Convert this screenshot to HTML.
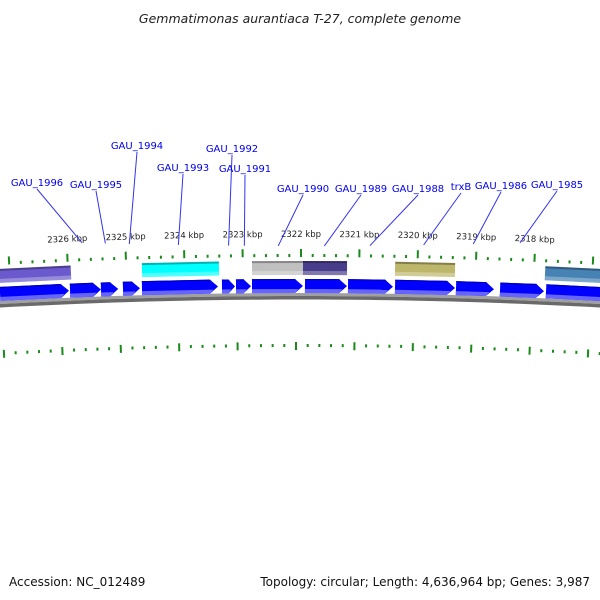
<!DOCTYPE html>
<html><head><meta charset="utf-8"><style>
body{margin:0;background:#fff}
svg{display:block;font-family:"DejaVu Sans","Liberation Sans",sans-serif}
</style></head><body>
<svg id="chart" width="600" height="600" viewBox="0 0 600 600">
<text x="300" y="23" text-anchor="middle" font-size="12.5" font-style="italic" fill="#222">Gemmatimonas aurantiaca T-27, complete genome</text>
<g id="ring"></g>
<g id="labels"></g>
<text x="9" y="586" font-size="12" fill="#111">Accession: NC_012489</text>
<text x="590" y="586" text-anchor="end" font-size="12" fill="#111">Topology: circular; Length: 4,636,964 bp; Genes: 3,987</text>
</svg>
<script>
const geneStart=[2327.154,2325.955,2325.425,2325.048,2324.723,2323.353,2323.113,2322.839,2321.932,2321.195,2320.390,2319.346,2318.592,2317.805];
const geneEnd=[2325.973,2325.425,2325.130,2324.757,2323.421,2323.130,2322.856,2321.966,2321.212,2320.425,2319.363,2318.695,2317.839,2316.700];
const featStart=[2327.3,2324.723,2322.839,2321.966,2320.390,2317.822];
const featEnd=[2325.939,2323.404,2321.949,2321.212,2319.363,2316.7];
const featColor=["#6a5acd","#00ffff","#c0c0c0","#483d8b","#bdb76b","#4682b4"];
const tickKbp=[2318,2319,2320,2321,2322,2323,2324,2325,2326];
const labelNames=["GAU_1996","GAU_1995","GAU_1994","GAU_1993","GAU_1992","GAU_1991","GAU_1990","GAU_1989","GAU_1988","trxB","GAU_1986","GAU_1985"];
const labelKbp=[2325.75,2325.35,2324.94,2324.10,2323.24,2322.97,2322.39,2321.60,2320.82,2319.90,2319.05,2318.25];
const NS="http://www.w3.org/2000/svg";
const CX=300,CY=5922;
const xOf=k=>301+(2322-k)*58.4;
const ring=document.getElementById('ring');
function mk(t,a,p){const e=document.createElementNS(NS,t);for(const k in a)e.setAttribute(k,a[k]);(p||ring).appendChild(e);return e;}
// place local content drawn around x=xc at position xc on the circle
function rot(xc,y){const r=CY-(y||280);const a=Math.asin((xc-CX)/r)*180/Math.PI;return `rotate(${a} ${CX} ${CY}) translate(${CX-xc} 0)`;}
function arcPath(y1,y2){const r1=CY-y1,r2=CY-y2;const pts=[];const N=40;
 for(let i=0;i<=N;i++){const a=-0.06+0.12*i/N;pts.push([CX+r1*Math.sin(a),CY-r1*Math.cos(a)]);}
 for(let i=N;i>=0;i--){const a=-0.06+0.12*i/N;pts.push([CX+r2*Math.sin(a),CY-r2*Math.cos(a)]);}
 return 'M'+pts.map(p=>p[0].toFixed(2)+','+p[1].toFixed(2)).join('L')+'Z';}
// backbone
const bb=mk('path',{d:arcPath(293,296),fill:'#a0a0a0'});

const bb2=mk('path',{d:arcPath(296,299.5),fill:'#6a6a6a'});

// ticks
for(let i=0;i<=55;i++){const kr=Math.round((2327.2-i*0.2)*5)/5;const x=xOf(kr);if(x<-5||x>605)continue;
 const major=Math.abs(kr-Math.round(kr))<0.01;
 const t=mk('rect',{x:x-1,y:major?249:254,width:2,height:major?8:3,fill:'#1a8a1a',transform:rot(x,253)});
 
 const xi=x-5;
 const t2=mk('rect',{x:xi-1,y:major?342:344,width:2,height:major?8:3,fill:'#1a8a1a',transform:rot(xi,346)});
 }
tickKbp.forEach(k=>{const x=xOf(k);const t=mk('text',{x:x,y:237,'text-anchor':'middle','font-size':8.5,fill:'#222',transform:rot(x,237)});t.textContent=k+' kbp';
 });
// features
featStart.forEach((s,i)=>{const x1=xOf(s),x2=xOf(featEnd[i]);const g=mk('g',{transform:rot((x1+x2)/2,268)});
 
 mk('rect',{x:x1,y:261,width:x2-x1,height:14,fill:featColor[i]},g);
 mk('rect',{x:x1,y:261,width:x2-x1,height:2,fill:'#000','fill-opacity':0.3},g);
 mk('rect',{x:x1,y:271,width:x2-x1,height:4,fill:'#fff','fill-opacity':0.3},g);});
// genes
geneStart.forEach((s,i)=>{const x1=xOf(s),x2=xOf(geneEnd[i]);const tip=Math.min(8,(x2-x1)/2);
 const g=mk('g',{transform:rot((x1+x2)/2,286)});
 
 mk('path',{d:`M${x1},279L${x2-tip},279L${x2},286L${x2-tip},293L${x1},293Z`,fill:'#0000ff'},g);
 mk('path',{d:`M${x1},289L${x2-tip*4/7},289L${x2-tip},293L${x1},293Z`,fill:'#6666ff'},g);
 mk('path',{d:`M${x1},279L${x2-tip},279L${x2-tip+1.2},280L${x1},280Z`,fill:'#0000aa'},g);});
// labels
const lg=document.getElementById('labels');
const lx=[37,96,137,183,232,245,303,361,418,461,501,557];
const ly=[186,188,149,171,152,172,192,192,192,190,189,188];
labelNames.forEach((n,i)=>{const x=xOf(labelKbp[i]);
 const l=mk('line',{x1:lx[i],y1:ly[i]+3,x2:x,y2:246-Math.pow((x-300)/300,2)*6,stroke:'#3333ee','stroke-width':1},lg);
 
 const t=mk('text',{x:lx[i],y:ly[i],'text-anchor':'middle','font-size':10,fill:'#0000ee'},lg);t.textContent=n;
 });
</script>
</body></html>
